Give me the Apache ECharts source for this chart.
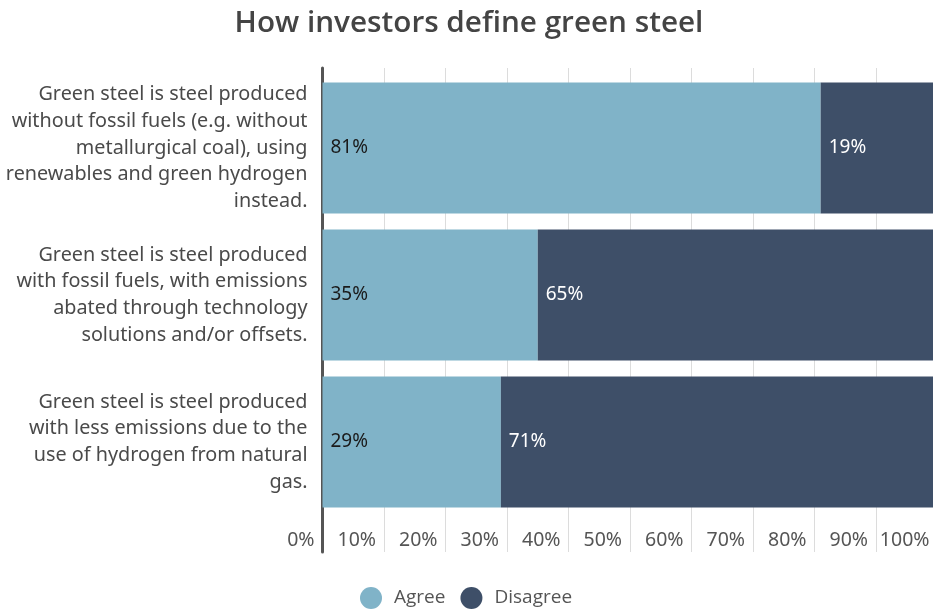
<!DOCTYPE html>
<html>
<head>
<meta charset="utf-8">
<script src="https://cdn.jsdelivr.net/npm/echarts@6/dist/echarts.min.js"></script>
<style>
  html, body { margin: 0; padding: 0; background: #fff; overflow: hidden; }
  /* the 100% end of the scale runs a few pixels past the visible edge */
  #chart { width: 938px; height: 610px; }
</style>
</head>
<body>
<div id="chart"></div>
<script>
// Survey statements (top to bottom)
const categories = [
  'Green steel is steel produced\nwithout fossil fuels (e.g. without\nmetallurgical coal), using\nrenewables and green hydrogen\ninstead.',
  'Green steel is steel produced\nwith fossil fuels, with emissions\nabated through technology\nsolutions and/or offsets.',
  'Green steel is steel produced\nwith less emissions due to the\nuse of hydrogen from natural\ngas.'
];
// Share of investors, in percent
const agree = [81, 35, 29];
const disagree = [19, 65, 71];
const seriesNames = ['Agree', 'Disagree'];
const tickStep = 10;

const chart = echarts.init(document.getElementById('chart'));

const pctLabel = (color) => ({
  show: true,
  position: 'insideLeft',
  distance: 8,
  formatter: p => p.value + '%',
  color: color,
  fontFamily: 'Noto Sans',
  fontSize: 19
});

chart.setOption({
  animation: false,
  backgroundColor: '#fff',
  title: {
    text: 'How investors define green steel',
    left: 'center',
    top: 4,
    textStyle: { fontFamily: 'Open Sans', fontWeight: 600, fontSize: 29.7, color: '#444' }
  },
  legend: {
    data: seriesNames,
    left: 360,
    top: 587,
    padding: 0,
    icon: 'circle',
    itemWidth: 22,
    itemHeight: 22,
    itemGap: 15,
    textStyle: { fontFamily: 'Open Sans', fontSize: 19, color: '#555', padding: [0, 0, 0, 7] }
  },
  grid: [
    // bar area
    { left: 322.5, top: 74.5, width: 615, height: 441 },
    // frame carrying gridlines, tick labels and the left axis line
    { left: 322.5, top: 68, width: 615, height: 484 }
  ],
  xAxis: [
    { type: 'value', gridIndex: 0, min: 0, max: 100, interval: tickStep, show: false },
    {
      type: 'value', gridIndex: 1, min: 0, max: 100, interval: tickStep,
      axisLine: { show: false },
      axisTick: { show: false },
      splitLine: { show: true, lineStyle: { color: '#dcdcdc', width: 1 } },
      axisLabel: {
        inside: true,
        margin: 12,
        verticalAlign: 'middle',
        align: 'right',
        padding: [0, 8, 0, 0],
        formatter: v => v + '%',
        fontFamily: 'Noto Sans',
        fontSize: 19.5,
        color: '#555'
      }
    }
  ],
  yAxis: [
    {
      type: 'category', gridIndex: 0, data: categories, inverse: true,
      axisLine: { show: false },
      axisTick: { show: false },
      axisLabel: {
        margin: 15,
        fontFamily: 'Noto Sans',
        fontSize: 19.8,
        lineHeight: 26.7,
        color: '#4a4a4a',
        align: 'right'
      }
    },
    {
      type: 'value', gridIndex: 1, min: 0, max: 1,
      axisLine: { show: true, lineStyle: { color: '#555', width: 3 } },
      axisTick: { show: false },
      axisLabel: { show: false },
      splitLine: { show: false }
    }
  ],
  series: [
    {
      name: seriesNames[0], type: 'bar', stack: 'total',
      xAxisIndex: 0, yAxisIndex: 0,
      data: agree,
      barCategoryGap: '11%',
      itemStyle: { color: '#80B3C8' },
      label: pctLabel('#1a1a1a'),
      z: 3
    },
    {
      name: seriesNames[1], type: 'bar', stack: 'total',
      xAxisIndex: 0, yAxisIndex: 0,
      data: disagree,
      barCategoryGap: '11%',
      itemStyle: { color: '#3E4F68' },
      label: pctLabel('#ffffff'),
      z: 3
    }
  ]
});
</script>
</body>
</html>
